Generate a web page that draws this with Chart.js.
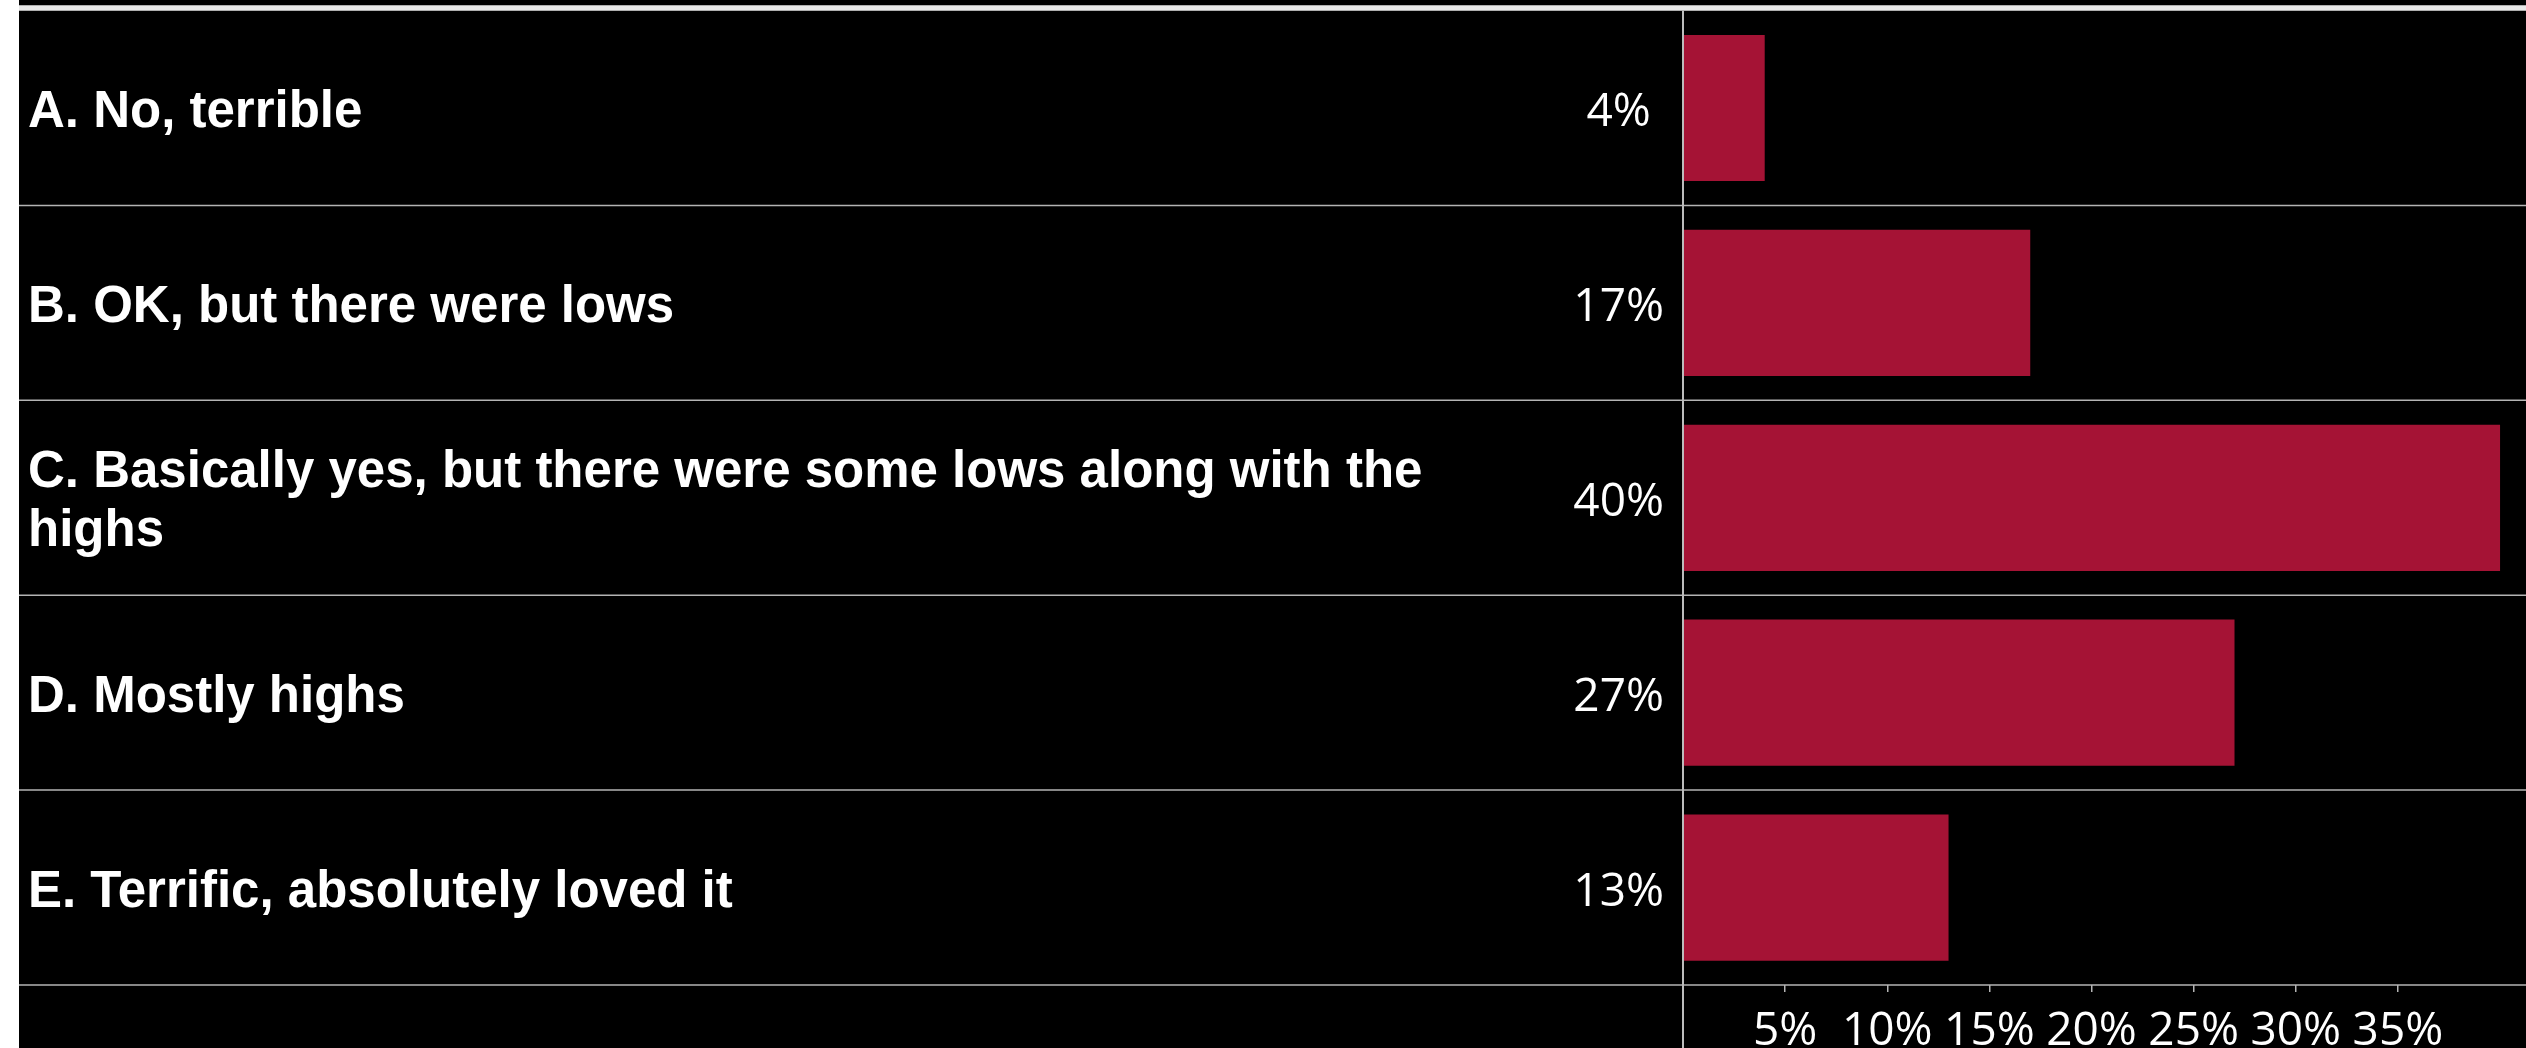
<!DOCTYPE html>
<html>
<head>
<meta charset="utf-8">
<script src="https://cdn.jsdelivr.net/npm/chart.js@4/dist/chart.umd.min.js"></script>
<style>
  html, body { margin: 0; padding: 0; background: #ffffff; width: 2526px; height: 1048px; overflow: hidden; }
  #wrap { position: absolute; left: 19px; top: 0; width: 2507px; height: 1048px; background: #000000; }
  canvas { display: block; }
</style>
</head>
<body>
<div id="wrap"><canvas id="c" width="2507" height="1048"></canvas></div>
<script>
// ---- data ----
const categories = [
  'A. No, terrible',
  'B. OK, but there were lows',
  ['C. Basically yes, but there were some lows along with the', 'highs'],
  'D. Mostly highs',
  'E. Terrific, absolutely loved it'
];
const percentValues = [4, 17, 40, 27, 13];
const valueLabels = ['4%', '17%', '40%', '27%', '13%'];
const tickValues = [5, 10, 15, 20, 25, 30, 35];
const tickLabels = ['5%', '10%', '15%', '20%', '25%', '30%', '35%'];

// ---- styling ----
const BAR_COLOR = '#a51335';
const LINE_COLOR = '#b4b4b4';

const framePlugin = {
  id: 'frame',
  afterDraw(chart) {
    const { ctx, scales } = chart;
    const y = scales.y, x = scales.x;
    const W = chart.width, H = chart.height;
    const line = (x1, y1, x2, y2) => { ctx.beginPath(); ctx.moveTo(x1, y1); ctx.lineTo(x2, y2); ctx.stroke(); };
    ctx.save();
    ctx.strokeStyle = LINE_COLOR;
    ctx.lineWidth = 1.5;
    for (let i = 1; i <= categories.length; i++) {
      const py = y.getPixelForValue(i - 0.5);
      line(0, py, W, py);
    }
    const top = y.getPixelForValue(-0.5);
    ctx.strokeStyle = '#e8e8e8';
    ctx.lineWidth = 5.5;
    line(0, top - 2.6, W, top - 2.6);
    const x0 = x.getPixelForValue(0);
    ctx.strokeStyle = '#bcbcbc';
    ctx.lineWidth = 2;
    line(x0, top, x0, H);
    ctx.restore();
  }
};

const noPad = (s) => { s.paddingTop = 0; s.paddingBottom = 0; };

new Chart(document.getElementById('c'), {
  type: 'bar',
  data: {
    labels: categories,
    datasets: [{
      data: percentValues,
      backgroundColor: BAR_COLOR,
      borderWidth: 0,
      barPercentage: 0.75,
      categoryPercentage: 1.0
    }]
  },
  options: {
    indexAxis: 'y',
    responsive: false,
    animation: false,
    devicePixelRatio: 1,
    layout: { padding: { left: 9, top: 10.6, right: 0, bottom: 0 } },
    plugins: { legend: { display: false }, tooltip: { enabled: false } },
    scales: {
      x: {
        type: 'linear',
        position: 'bottom',
        min: 0,
        max: 41.27,
        afterBuildTicks: (s) => { s.ticks = s.ticks.filter(t => t.value <= 40); },
        afterFit: (s) => { s.height = 63; s.paddingLeft = 0; s.paddingRight = 0; },
        border: { display: false },
        grid: { display: true, drawOnChartArea: false, drawTicks: true, tickLength: 7, color: LINE_COLOR, lineWidth: 1.5 },
        ticks: {
          stepSize: 5,
          autoSkip: false,
          maxRotation: 0,
          padding: 12,
          color: '#ffffff',
          font: { family: 'Open Sans', size: 46 },
          callback: (v) => { const i = tickValues.indexOf(v); return i >= 0 ? tickLabels[i] : ''; }
        }
      },
      y: {
        type: 'category',
        position: 'left',
        weight: 2,
        offset: true,
        afterFit: (s) => { s.width = 1527; noPad(s); },
        border: { display: false },
        grid: { display: false, drawTicks: false, offset: true },
        ticks: {
          autoSkip: false,
          crossAlign: 'far',
          padding: 0,
          labelOffset: 5,
          color: '#ffffff',
          font: { family: 'Liberation Sans', weight: 'bold', size: 51, lineHeight: 1.16 }
        }
      },
      yVal: {
        type: 'category',
        axis: 'y',
        position: 'left',
        weight: 1,
        offset: true,
        labels: valueLabels,
        afterFit: (s) => { s.width = 128; noPad(s); },
        border: { display: false },
        grid: { display: false, drawTicks: false, offset: true },
        ticks: {
          autoSkip: false,
          crossAlign: 'center',
          padding: 19,
          labelOffset: 5,
          color: '#ffffff',
          font: { family: 'Open Sans', size: 46 }
        }
      }
    }
  },
  plugins: [framePlugin]
});
</script>
</body>
</html>
